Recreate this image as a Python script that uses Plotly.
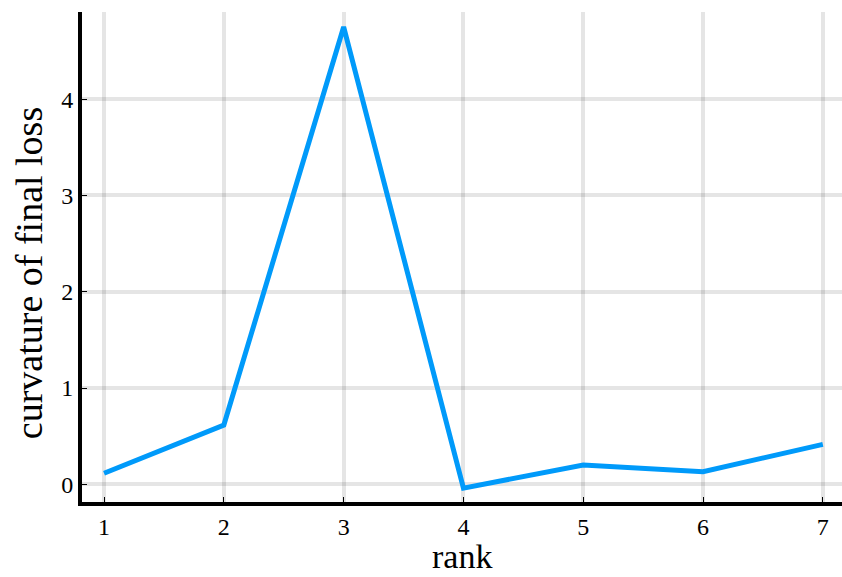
import plotly.graph_objects as go

# rank of the factorisation vs. curvature of the final loss
rank = [1, 2, 3, 4, 5, 6, 7]
curvature = [0.115, 0.615, 4.75, -0.04, 0.20, 0.13, 0.415]

x_ticks = [1, 2, 3, 4, 5, 6, 7]
y_ticks = [0, 1, 2, 3, 4]

FONT = "Liberation Serif"
LINE_BLUE = "#009AFA"
GRID = "rgba(0,0,0,0.10)"

fig = go.Figure(
    go.Scatter(
        x=rank,
        y=curvature,
        mode="lines",
        line=dict(color=LINE_BLUE, width=5),
        showlegend=False,
        hoverinfo="skip",
    )
)

axis_common = dict(
    showline=True,
    linecolor="black",
    linewidth=4,
    mirror=False,
    showgrid=True,
    gridcolor=GRID,
    gridwidth=4,
    zeroline=False,
    ticks="inside",
    ticklen=5,
    tickwidth=1,
    tickcolor="black",
    tickfont=dict(family=FONT, size=24, color="black"),
)

fig.update_xaxes(
    range=[0.816, 7.16],
    tickvals=x_ticks,
    ticktext=[str(v) for v in x_ticks],
    **axis_common,
)
fig.update_yaxes(
    range=[-0.184, 4.905],
    tickvals=y_ticks,
    ticktext=[str(v) for v in y_ticks],
    **axis_common,
)

fig.add_annotation(
    text="rank",
    xref="paper", yref="paper",
    x=0.5, y=-0.1122,
    xanchor="center", yanchor="middle",
    showarrow=False,
    font=dict(family=FONT, size=34, color="black"),
)
fig.add_annotation(
    text="curvature of final loss",
    xref="paper", yref="paper",
    x=-0.0697, y=0.467,
    xanchor="center", yanchor="middle",
    textangle=-90,
    showarrow=False,
    font=dict(family=FONT, size=38, color="black"),
)

fig.update_layout(
    width=842,
    height=577,
    margin=dict(l=82, r=0, t=12, b=75),
    paper_bgcolor="white",
    plot_bgcolor="white",
)

fig.write_html("out.html")
